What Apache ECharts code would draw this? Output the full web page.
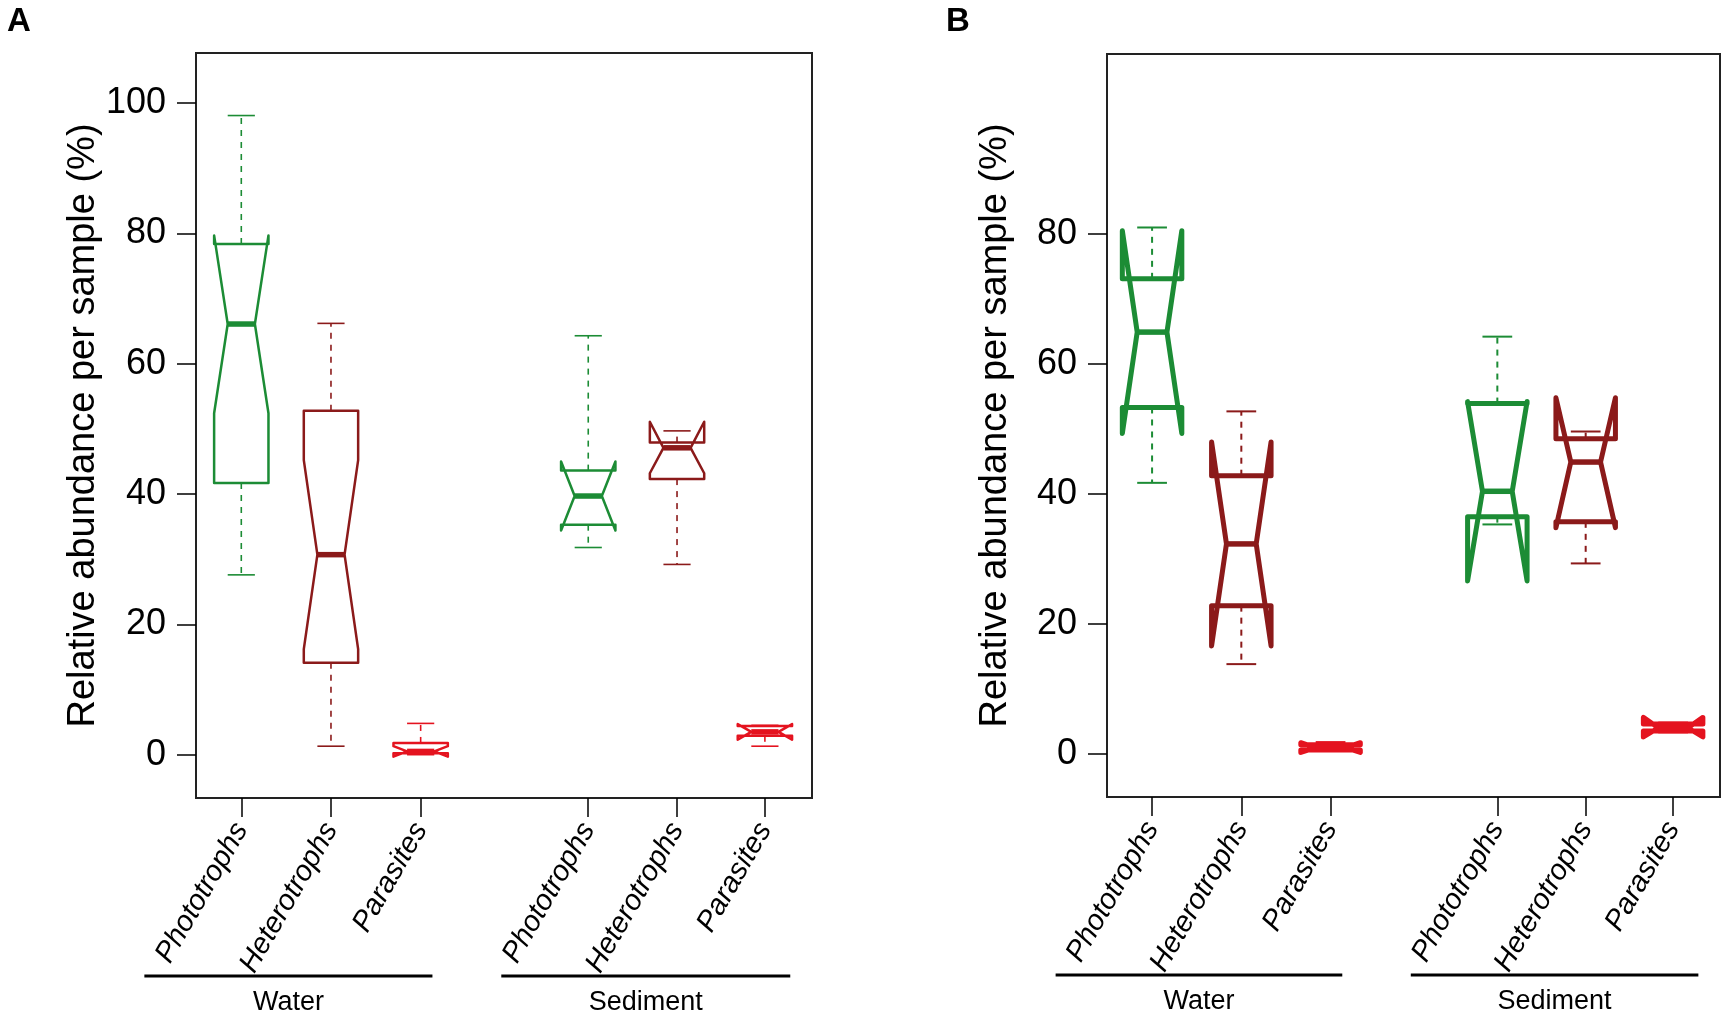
<!DOCTYPE html>
<html>
<head>
<meta charset="utf-8">
<script src="https://cdn.jsdelivr.net/npm/echarts@6/dist/echarts.min.js"></script>
<style>
html, body { margin: 0; padding: 0; background: #fff; }
#chart { width: 1725px; height: 1018px; }
</style>
</head>
<body>
<div id="chart"></div>
<script>
var categories = ['Phototrophs', 'Heterotrophs', 'Parasites', 'Phototrophs', 'Heterotrophs', 'Parasites'];
var positions = [1, 1.99, 2.98, 4.83, 5.81, 6.78];
var groupNames = ['Water', 'Sediment'];
var groupSpans = [[-0.07, 3.11], [3.87, 7.06]];
var boxColors = ['#1c8c35', '#8b1a1a', '#e4131f', '#1c8c35', '#8b1a1a', '#e4131f'];
var yTicksA = [0, 20, 40, 60, 80, 100];
var yTicksB = [0, 20, 40, 60, 80];

// each row: [min, q1, median, q3, max, notch low, notch high]
var statsA = [
    [27.6, 41.7, 66.1, 78.4, 98.1, 52.4, 79.7],
    [1.3, 14.1, 30.7, 52.8, 66.2, 16.2, 45.2],
    [0.0, 0.2, 0.5, 1.8, 4.8, -0.3, 1.3],
    [31.8, 35.3, 39.7, 43.6, 64.3, 34.4, 45.0],
    [29.2, 42.3, 47.1, 47.9, 49.7, 43.2, 51.1],
    [1.3, 2.9, 3.5, 4.4, 4.5, 2.3, 4.7]
];
var statsB = [
    [41.7, 53.3, 64.9, 73.1, 81.0, 49.3, 80.5],
    [13.8, 22.8, 32.3, 42.8, 52.7, 16.6, 48.0],
    [0.5, 0.6, 0.95, 1.4, 1.8, 0.2, 1.7],
    [35.3, 36.5, 40.4, 53.9, 64.2, 26.6, 54.2],
    [29.3, 35.7, 44.9, 48.5, 49.6, 34.8, 54.8],
    [3.3, 3.5, 4.0, 4.6, 4.8, 2.6, 5.6]
];

var FONT = '"Liberation Sans", Arial, sans-serif';
var chartDom = document.getElementById('chart');
var myChart = echarts.init(chartDom);

function boxData(stats) {
    return stats.map(function (s, i) {
        return [positions[i]].concat(s);
    });
}

// notched box the way R's boxplot(notch = TRUE) draws it
function makeBoxRenderer(halfW, lw, medLw, whiskLw) {
    return function (params, api) {
        var x = api.value(0);
        var mn = api.value(1), q1 = api.value(2), md = api.value(3),
            q3 = api.value(4), mx = api.value(5), nl = api.value(6), nh = api.value(7);
        var color = boxColors[params.dataIndex];
        var p = function (dx, v) { return api.coord([x + dx, v]); };
        var pts = [
            p(-halfW, q1), p(-halfW, nl), p(-halfW / 2, md), p(-halfW, nh), p(-halfW, q3),
            p(halfW, q3), p(halfW, nh), p(halfW / 2, md), p(halfW, nl), p(halfW, q1)
        ];
        var seg = function (a, b, width, dash) {
            return {
                type: 'line',
                shape: { x1: a[0], y1: a[1], x2: b[0], y2: b[1] },
                style: { stroke: color, lineWidth: width, lineDash: dash || null }
            };
        };
        return {
            type: 'group',
            children: [
                seg(p(0, q3), p(0, mx), whiskLw, [6, 6]),
                seg(p(0, q1), p(0, mn), whiskLw, [6, 6]),
                seg(p(-halfW / 2, mx), p(halfW / 2, mx), whiskLw),
                seg(p(-halfW / 2, mn), p(halfW / 2, mn), whiskLw),
                {
                    type: 'polygon',
                    shape: { points: pts },
                    style: { fill: 'none', stroke: color, lineWidth: lw, lineJoin: 'round' }
                },
                seg(p(-halfW / 2, md), p(halfW / 2, md), medLw)
            ]
        };
    };
}

function renderGroup(params, api) {
    var cs = params.coordSys;
    var x1 = api.coord([api.value(0), 0])[0];
    var x2 = api.coord([api.value(1), 0])[0];
    var yLine = cs.y + cs.height + 178;
    return {
        type: 'group',
        children: [
            {
                type: 'line',
                shape: { x1: x1, y1: yLine, x2: x2, y2: yLine },
                style: { stroke: '#000', lineWidth: 3 }
            },
            {
                type: 'text',
                x: (x1 + x2) / 2,
                y: yLine + 27,
                style: {
                    text: groupNames[api.value(2)],
                    fontSize: 27, fontFamily: FONT, fill: '#000',
                    align: 'center', verticalAlign: 'middle'
                }
            }
        ]
    };
}

function xAxisFor(gi) {
    return {
        gridIndex: gi, type: 'value', min: 0.5, max: 7.3,
        position: 'bottom',
        axisLine: { show: false, onZero: false },
        splitLine: { show: false },
        axisTick: { show: true, length: 19, customValues: positions, lineStyle: { color: '#000', width: 1.5 } },
        axisLabel: {
            customValues: positions, rotate: 60, margin: 27,
            fontSize: 29, fontStyle: 'italic', fontFamily: FONT, color: '#000',
            formatter: function (v) {
                for (var i = 0; i < positions.length; i++) {
                    if (Math.abs(positions[i] - v) < 1e-6) return categories[i];
                }
                return '';
            }
        }
    };
}

function yAxisFor(gi, ticks) {
    return {
        gridIndex: gi, type: 'value', min: -6.65, max: 107.7,
        axisLine: { show: false, onZero: false },
        splitLine: { show: false },
        axisTick: { show: true, length: 19, customValues: ticks, lineStyle: { color: '#000', width: 1.5 } },
        axisLabel: { customValues: ticks, fontSize: 36, fontFamily: FONT, color: '#000', margin: 30 },
        name: 'Relative abundance per sample (%)',
        nameLocation: 'middle', nameGap: 92,
        nameTextStyle: { fontSize: 38, fontFamily: FONT, color: '#000' }
    };
}

var groupData = groupSpans.map(function (g, i) { return [g[0], g[1], i]; });

var option = {
    animation: false,
    backgroundColor: '#fff',
    title: [
        { text: 'A', left: 2, top: 0, textStyle: { fontSize: 33, fontWeight: 'bold', fontFamily: FONT, color: '#000' } },
        { text: 'B', left: 941, top: 0, textStyle: { fontSize: 33, fontWeight: 'bold', fontFamily: FONT, color: '#000' } }
    ],
    grid: [
        { left: 196, top: 53, width: 616, height: 745, show: true, borderColor: '#222', borderWidth: 2 },
        { left: 1107, top: 54, width: 613, height: 743, show: true, borderColor: '#222', borderWidth: 2 }
    ],
    xAxis: [xAxisFor(0), xAxisFor(1)],
    yAxis: [yAxisFor(0, yTicksA), yAxisFor(1, yTicksB)],
    series: [
        {
            type: 'custom', xAxisIndex: 0, yAxisIndex: 0, clip: false,
            renderItem: makeBoxRenderer(0.3, 2.5, 5.5, 1.6),
            data: boxData(statsA)
        },
        {
            type: 'custom', xAxisIndex: 1, yAxisIndex: 1, clip: false,
            renderItem: makeBoxRenderer(0.33, 5, 5.5, 2),
            data: boxData(statsB)
        },
        { type: 'custom', xAxisIndex: 0, yAxisIndex: 0, clip: false, renderItem: renderGroup, data: groupData, silent: true },
        { type: 'custom', xAxisIndex: 1, yAxisIndex: 1, clip: false, renderItem: renderGroup, data: groupData, silent: true }
    ]
};

option && myChart.setOption(option);
</script>
</body>
</html>
